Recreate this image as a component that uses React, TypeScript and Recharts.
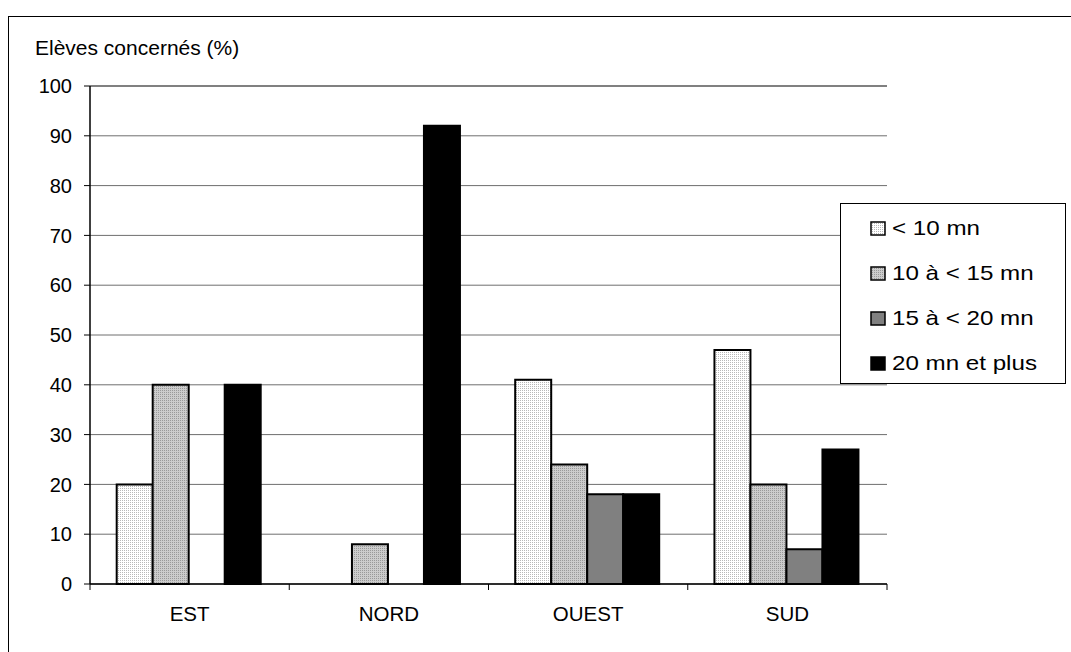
import {
  BarChart,
  Bar,
  XAxis,
  YAxis,
  CartesianGrid,
  Legend,
  ReferenceLine,
} from "recharts";

const regions = ["EST", "NORD", "OUEST", "SUD"];
const lessThan10 = [20, 0, 41, 47];
const from10To15 = [40, 8, 24, 20];
const from15To20 = [0, 0, 18, 7];
const over20 = [40, 92, 18, 27];
const seriesNames = ["< 10 mn", "10 à < 15 mn", "15 à < 20 mn", "20 mn et plus"];
const yTicks = [0, 10, 20, 30, 40, 50, 60, 70, 80, 90, 100];
const yTitle = "Elèves concernés (%)";

const seriesKeys = ["lt10", "f10", "f15", "gt20"];
const seriesFills = ["url(#dotsLight)", "url(#dotsGrey)", "#808080", "#000000"];

const data = regions.map((name, i) => ({
  name,
  lt10: lessThan10[i],
  f10: from10To15[i],
  f15: from15To20[i],
  gt20: over20[i],
}));

const FONT = '"Liberation Sans", Arial, sans-serif';
const X_TICK_SIZE = 6;
const X_TICK_MARGIN = 16;

const CategoryTick = (props: any) => {
  const { x, y, payload, index } = props;
  const count = props.visibleTicksCount || regions.length;
  const half = payload.offset || props.width / (2 * count);
  const axisY = y - X_TICK_SIZE - X_TICK_MARGIN;
  return (
    <g>
      <line x1={x - half} x2={x - half} y1={axisY} y2={axisY + X_TICK_SIZE} stroke="#000" />
      {index === count - 1 && (
        <line x1={x + half} x2={x + half} y1={axisY} y2={axisY + X_TICK_SIZE} stroke="#000" />
      )}
      <text x={x} y={y} dy="0.71em" textAnchor="middle" fontSize={20.5} fill="#000" fontFamily={FONT}>
        {payload.value}
      </text>
    </g>
  );
};

const LegendBox = () => (
  <div
    style={{
      width: 226,
      height: 181,
      boxSizing: "border-box",
      border: "1px solid #000",
      background: "#fff",
      position: "relative",
      fontFamily: FONT,
    }}
  >
    {seriesNames.map((label, i) => (
      <div
        key={label}
        style={{
          position: "absolute",
          left: 29,
          top: 24 + i * 45 - 12,
          height: 24,
          display: "flex",
          alignItems: "center",
          whiteSpace: "nowrap",
        }}
      >
        <svg width={16} height={15} style={{ display: "block" }}>
          <rect x={1} y={1} width={14} height={13} fill={seriesFills[i]} stroke="#000" strokeWidth={1.5} />
        </svg>
        <span
          style={{
            marginLeft: 6,
            fontSize: 21,
            lineHeight: "24px",
            color: "#000",
            display: "inline-block",
            transform: "scaleX(1.15)",
            transformOrigin: "left center",
          }}
        >
          {label}
        </span>
      </div>
    ))}
  </div>
);

export default function App() {
  return (
    <div
      style={{
        position: "fixed",
        left: 0,
        top: 0,
        width: 1071,
        height: 652,
        overflow: "hidden",
        background: "#fff",
        fontFamily: FONT,
      }}
    >
      <svg width={0} height={0} style={{ position: "absolute" }}>
        <defs>
          <pattern id="dotsLight" width={2} height={2} patternUnits="userSpaceOnUse">
            <rect width={2} height={2} fill="#ffffff" />
            <rect width={1} height={1} fill="#b8b8b8" />
          </pattern>
          <pattern id="dotsGrey" width={2} height={2} patternUnits="userSpaceOnUse">
            <rect width={2} height={2} fill="#cccccc" />
            <rect width={1} height={1} fill="#999999" />
          </pattern>
        </defs>
      </svg>
      <div
        style={{
          position: "absolute",
          left: 8,
          top: 16,
          width: 1200,
          height: 800,
          border: "1.5px solid #000",
        }}
      />
      <div
        style={{
          position: "absolute",
          left: 35,
          top: 38,
          fontSize: 21,
          lineHeight: "20px",
          color: "#000",
          whiteSpace: "nowrap",
        }}
      >
        {yTitle}
      </div>
      <div style={{ position: "absolute", left: 0, top: 0 }}>
        <BarChart
          width={1071}
          height={652}
          data={data}
          margin={{ top: 86, right: 184, bottom: 0, left: 0 }}
          barCategoryGap="13.4%"
          barGap={0}
        >
          <CartesianGrid vertical={false} stroke="#6e6e6e" strokeWidth={1} />
          <XAxis
            dataKey="name"
            height={68}
            tickLine={false}
            tickSize={X_TICK_SIZE}
            tickMargin={X_TICK_MARGIN}
            axisLine={{ stroke: "#000", strokeWidth: 1.5 }}
            tick={<CategoryTick />}
            interval={0}
          />
          <YAxis
            width={90}
            domain={[0, 100]}
            ticks={yTicks}
            interval={0}
            tickSize={6}
            tickMargin={12}
            axisLine={{ stroke: "#000", strokeWidth: 1.5 }}
            tickLine={{ stroke: "#000" }}
            tick={{ fill: "#000", fontSize: 20, fontFamily: FONT }}
          />
          <YAxis
            yAxisId="frame"
            orientation="right"
            width={0}
            domain={[0, 100]}
            tick={false}
            tickLine={false}
            axisLine={{ stroke: "#808080", strokeWidth: 2 }}
          />
          <ReferenceLine y={100} stroke="#808080" strokeWidth={2} />
          <Legend
            layout="vertical"
            align="center"
            verticalAlign="middle"
            content={<LegendBox />}
            wrapperStyle={{ left: 840, top: 203, width: 226, height: 181 }}
          />
          {seriesKeys.map((key, i) => (
            <Bar
              key={key}
              dataKey={key}
              name={seriesNames[i]}
              fill={seriesFills[i]}
              stroke="#000"
              strokeWidth={2}
              isAnimationActive={false}
            />
          ))}
        </BarChart>
      </div>
    </div>
  );
}
